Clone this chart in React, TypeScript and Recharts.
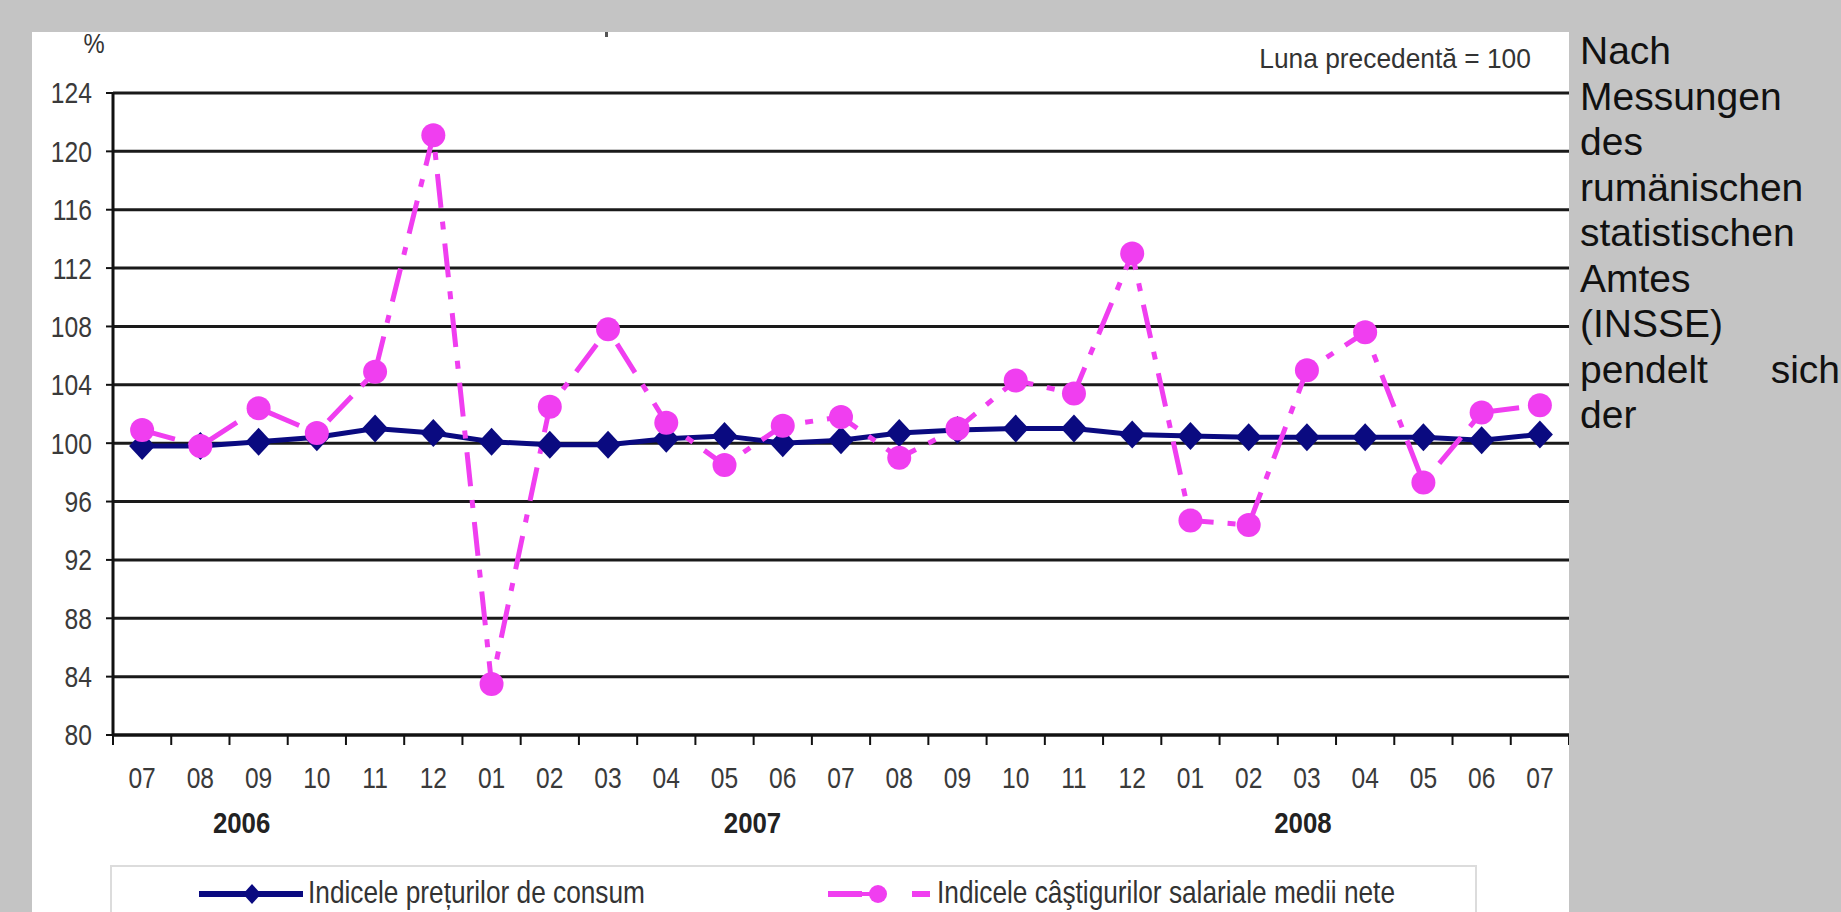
import { LineChart, Line, XAxis, YAxis, CartesianGrid } from 'recharts';

// months from 07/2006 to 07/2008
const months = ['07', '08', '09', '10', '11', '12', '01', '02', '03', '04', '05', '06', '07', '08', '09', '10', '11', '12', '01', '02', '03', '04', '05', '06', '07'];
const consumerPrices = [99.8, 99.8, 100.1, 100.4, 101.0, 100.7, 100.1, 99.9, 99.9, 100.3, 100.5, 100.0, 100.2, 100.7, 100.9, 101.0, 101.0, 100.6, 100.5, 100.4, 100.4, 100.4, 100.4, 100.2, 100.6];
const netEarnings = [100.9, 99.8, 102.4, 100.7, 104.9, 121.1, 83.5, 102.5, 107.8, 101.4, 98.5, 101.2, 101.8, 99.0, 101.0, 104.3, 103.4, 113.0, 94.7, 94.4, 105.0, 107.6, 97.3, 102.1, 102.6];
const yTicks = [80, 84, 88, 92, 96, 100, 104, 108, 112, 116, 120, 124];
const yearLabels = ['2006', '2007', '2008'];
const yearAtMonth = [2, 10, 20];
const seriesNames = ['Indicele prețurilor de consum', 'Indicele câştigurilor salariale medii nete'];
const sideText = ['Nach', 'Messungen', 'des', 'rumänischen', 'statistischen', 'Amtes', '(INSSE)', 'pendelt sich', 'der'];

const data = months.map((m, i) => ({ month: m, cpi: consumerPrices[i], wage: netEarnings[i] }));

const SANS = "'Liberation Sans', Arial, sans-serif";
const NAVY = '#0a0a80';
const PINK = '#f03ef0';
const DASH = '34 14 8 14';
const SQUEEZE = 0.82; // the original uses a narrow face

const PANEL_W = 1537;
const PANEL_H = 880;
const Y_AXIS_W = 81;
const PLOT_W = PANEL_W - Y_AXIS_W;
const BAND = PLOT_W / months.length;
const yearShift = [-17, 28, -4];

function Diamond(props: any) {
    const { cx, cy, index } = props;
    if (cx == null || cy == null) return <g key={`d${index}`} />;
    return (
        <path
            key={`d${index}`}
            d={`M${cx},${cy - 14} L${cx + 13},${cy} L${cx},${cy + 14} L${cx - 13},${cy} Z`}
            fill={NAVY}
        />
    );
}

function Dot(props: any) {
    const { cx, cy, index } = props;
    if (cx == null || cy == null) return <g key={`c${index}`} />;
    return <circle key={`c${index}`} cx={cx} cy={cy} r={12} fill={PINK} />;
}

function MonthTick(props: any) {
    const { x, y, payload } = props;
    const i = payload?.index ?? props.index;
    const yi = yearAtMonth.indexOf(i);
    return (
        <g>
            <line x1={x - BAND / 2} x2={x - BAND / 2} y1={y} y2={y + 10} stroke="#111" strokeWidth={2} />
            {i === months.length - 1 && (
                <line x1={x + BAND / 2} x2={x + BAND / 2} y1={y} y2={y + 10} stroke="#111" strokeWidth={2} />
            )}
            <text transform={`translate(${x},${y + 42}) scale(${SQUEEZE},1)`} dy="0.36em" textAnchor="middle" fontSize={30} fill="#3a3a3a" fontFamily={SANS}>
                {payload.value}
            </text>
            {yi >= 0 && (
                <text transform={`translate(${x + yearShift[yi]},${y + 87}) scale(0.86,1)`} dy="0.36em" textAnchor="middle" fontSize={30} fontWeight="bold" fill="#222" fontFamily={SANS}>
                    {yearLabels[yi]}
                </text>
            )}
        </g>
    );
}

function ValueTick(props: any) {
    const { x, y, payload } = props;
    return (
        <text transform={`translate(${x},${y}) scale(0.85,1)`} dy="0.36em" textAnchor="end" fontSize={29} fill="#3a3a3a" fontFamily={SANS}>
            {payload.value}
        </text>
    );
}

const narrowLeft = { display: 'inline-block', transform: `scaleX(${SQUEEZE})`, transformOrigin: 'left center' } as const;

export default function App() {
    return (
        <div style={{ position: 'absolute', left: 0, top: 0, width: 1841, height: 912, background: '#c4c4c4', overflow: 'hidden' }}>
            <div style={{ position: 'absolute', left: 32, top: 32, width: PANEL_W, height: PANEL_H, background: '#fff' }}>
                <LineChart width={PANEL_W} height={PANEL_H} data={data} margin={{ top: 61, right: 0, left: 0, bottom: 67 }}>
                    <CartesianGrid vertical={false} stroke="#1a1a1a" strokeWidth={3} />
                    <XAxis
                        dataKey="month"
                        interval={0}
                        height={110}
                        padding={{ left: BAND / 2, right: BAND / 2 }}
                        tickSize={0}
                        tickMargin={0}
                        tickLine={false}
                        axisLine={{ stroke: '#111', strokeWidth: 3 }}
                        tick={<MonthTick />}
                    />
                    <YAxis
                        width={Y_AXIS_W}
                        domain={[80, 124]}
                        ticks={yTicks}
                        interval={0}
                        tickSize={7}
                        tickMargin={14}
                        axisLine={{ stroke: '#111', strokeWidth: 3 }}
                        tickLine={{ stroke: '#111', strokeWidth: 2 }}
                        tick={<ValueTick />}
                    />
                    <Line
                        type="linear"
                        dataKey="cpi"
                        name={seriesNames[0]}
                        stroke={NAVY}
                        strokeWidth={5}
                        dot={(p: any) => <Diamond {...p} />}
                        activeDot={false}
                        isAnimationActive={false}
                    />
                    <Line
                        type="linear"
                        dataKey="wage"
                        name={seriesNames[1]}
                        stroke={PINK}
                        strokeWidth={5}
                        strokeDasharray={DASH}
                        dot={(p: any) => <Dot {...p} />}
                        activeDot={false}
                        isAnimationActive={false}
                    />
                </LineChart>
            </div>

            {/* unit and note labels */}
            <div style={{ position: 'absolute', left: 80, top: 28, width: 28, textAlign: 'center', fontFamily: SANS, fontSize: 28, color: '#333', transform: 'scaleX(0.85)' }}>%</div>
            <div style={{ position: 'absolute', left: 605, top: 32, width: 3, height: 5, background: '#555' }} />
            <div style={{ position: 'absolute', right: 1841 - 1531, top: 43, fontFamily: SANS, fontSize: 28, color: '#333', whiteSpace: 'nowrap', transform: 'scaleX(0.94)', transformOrigin: 'right center' }}>
                Luna precedentă = 100
            </div>

            {/* legend */}
            <div style={{ position: 'absolute', left: 110, top: 865, width: 1367, height: 80, border: '2px solid #dcdcdc', boxSizing: 'border-box', background: '#fff' }}>
                <svg width={110} height={20} style={{ position: 'absolute', left: 87, top: 17 }}>
                    <line x1={0} x2={104} y1={10} y2={10} stroke={NAVY} strokeWidth={6} />
                    <path d="M53,0 L62,10 L53,20 L44,10 Z" fill={NAVY} />
                </svg>
                <div style={{ position: 'absolute', left: 196, top: 7, fontFamily: SANS, fontSize: 32, color: '#333', whiteSpace: 'nowrap' }}>
                    <span style={narrowLeft}>{seriesNames[0]}</span>
                </div>
                <svg width={110} height={24} style={{ position: 'absolute', left: 716, top: 15 }}>
                    <line x1={0} x2={34} y1={12} y2={12} stroke={PINK} strokeWidth={6} />
                    <line x1={34} x2={56} y1={12} y2={12} stroke={PINK} strokeWidth={4} />
                    <circle cx={50} cy={12} r={9} fill={PINK} />
                    <line x1={84} x2={102} y1={12} y2={12} stroke={PINK} strokeWidth={6} />
                </svg>
                <div style={{ position: 'absolute', left: 825, top: 7, fontFamily: SANS, fontSize: 32, color: '#333', whiteSpace: 'nowrap' }}>
                    <span style={narrowLeft}>{seriesNames[1]}</span>
                </div>
            </div>

            {/* text column at the right */}
            <div style={{ position: 'absolute', left: 1580, top: 28, width: 260, fontFamily: SANS, fontSize: 39, lineHeight: '45.5px', color: '#111' }}>
                {sideText.map((w, i) => (
                    <div key={i} style={{ textAlign: 'justify', textAlignLast: i === sideText.length - 2 ? 'justify' : 'left', whiteSpace: 'nowrap' }}>
                        {w}
                    </div>
                ))}
            </div>
        </div>
    );
}
